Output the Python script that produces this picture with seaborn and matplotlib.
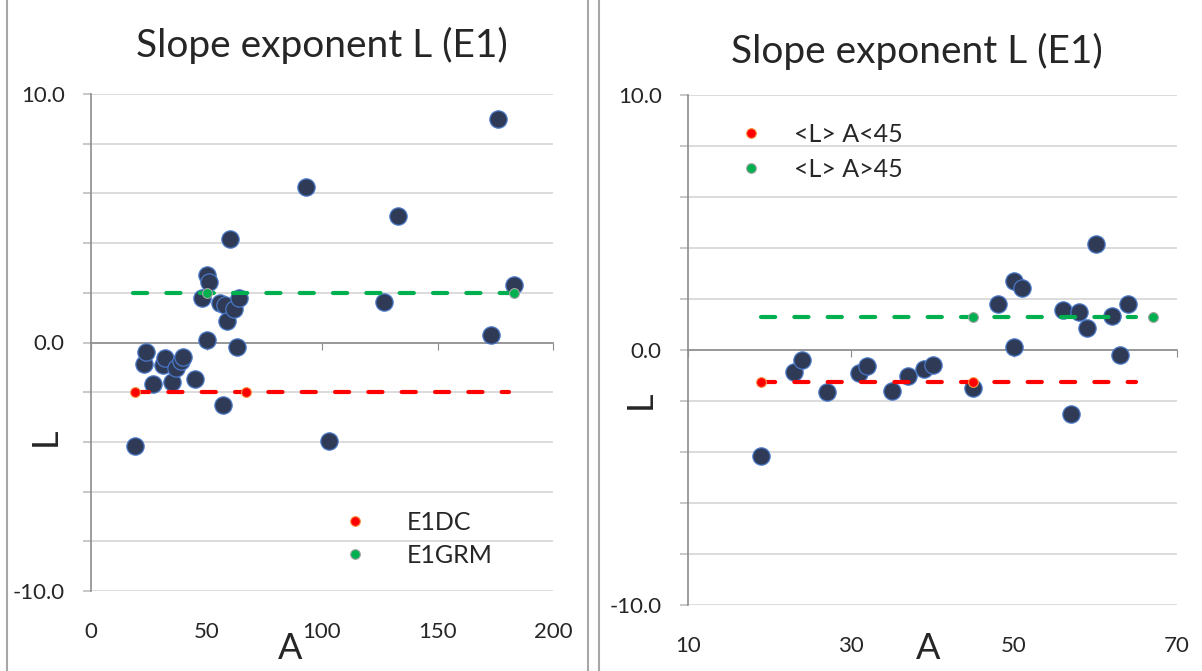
import pandas as pd
import matplotlib.pyplot as plt
import seaborn as sns
from matplotlib.ticker import FixedLocator, FuncFormatter
from matplotlib.lines import Line2D

# cores
NAVY, EDGE_BLUE = '#2E3A56', '#4A78C8'
RED, RED_EDGE = '#FF0000', '#F79646'
GREEN, GREEN_EDGE = '#00B050', '#A5A5A5'
GRID, AXIS, BORDER = '#D9D9D9', '#8C8C8C', '#A6A6A6'

# dados
A = [19, 23, 24, 27, 31, 32, 35, 37, 39, 40, 45, 48, 50, 50, 51, 56, 57, 58,
     59, 60, 62, 63, 64, 93, 103, 127, 133, 173, 176, 183]
L = [-4.17, -0.85, -0.39, -1.66, -0.91, -0.62, -1.60, -1.01, -0.75, -0.58,
     -1.48, 1.79, 2.70, 0.11, 2.45, 1.57, -2.50, 1.50, 0.85, 4.15, 1.35,
     -0.20, 1.81, 6.26, -3.98, 1.61, 5.11, 0.31, 9.00, 2.32]

# series de referencia (painel esquerdo)
e1dc_A, e1dc_L, e1dc_span = [19, 67], [-2.0, -2.0], [19, 181]
e1grm_A, e1grm_L, e1grm_span = [50, 183], [2.0, 2.0], [18, 183]
# medias (painel direito)
lt45_A, lt45_L, lt45_span = [19, 45], [-1.27, -1.27], [19, 65]
gt45_A, gt45_L, gt45_span = [45, 67], [1.30, 1.30], [19, 65]

left_xticks = [0, 50, 100, 150, 200]
right_xticks = [10, 30, 50, 70]

sns.set_style('white')
plt.rcParams['font.family'] = ['Lato', 'DejaVu Sans']

dados = pd.DataFrame({'A': A, 'L': L})

fig = plt.figure(figsize=(12.02, 6.71), dpi=100)
ax1 = fig.add_axes([91 / 1202, 1 - 591 / 671, 462 / 1202, 497 / 671])
ax2 = fig.add_axes([688 / 1202, 1 - 605 / 671, 489 / 1202, 510 / 671])


def linha_media(ax, span, val, pts_A, pts_L, cor, borda, nome):
    sns.lineplot(x=span, y=[val[0]] * len(span), ax=ax, color=cor, lw=3,
                 linestyle=(0, (3.4, 4.6)), dash_capstyle='round', zorder=4)
    ax.scatter(pts_A, pts_L, s=50, color=cor, edgecolor=borda, linewidth=0.8,
               zorder=5)
    return Line2D([], [], ls='', marker='o', markersize=7, markerfacecolor=cor,
                  markeredgecolor=borda, markeredgewidth=0.8, label=nome)


def formatar(ax, xlim, xticks, tit_xy, xl_xy, yl_xy):
    ax.set_xlim(xlim)
    ax.set_ylim(-10, 10)
    ax.yaxis.set_major_locator(FixedLocator(range(-10, 11, 2)))
    ax.yaxis.set_major_formatter(
        FuncFormatter(lambda v, p: f'{v:.1f}' if v % 10 == 0 else ''))
    ax.grid(axis='y', color=GRID, lw=1.3)
    ax.grid(axis='x', visible=False)
    ax.set_axisbelow(True)
    for s in ['top', 'right']:
        ax.spines[s].set_visible(False)
    ax.spines['left'].set_color(AXIS)
    ax.spines['left'].set_linewidth(1.2)
    ax.spines['bottom'].set_position(('data', 0))
    ax.spines['bottom'].set_color(AXIS)
    ax.spines['bottom'].set_linewidth(1.2)
    ax.set_xticks(xticks)
    ax.tick_params(axis='x', direction='out', length=5, color=AXIS,
                   labelbottom=False, bottom=True)
    ax.tick_params(axis='y', direction='out', length=6, color='#BFBFBF',
                   width=1.2, left=True, labelsize=16, pad=13)
    sec = ax.secondary_xaxis('bottom')
    sec.set_xticks(xticks)
    sec.spines['bottom'].set_visible(False)
    sec.tick_params(length=0, labelsize=16, pad=22)
    ax.set_title('Slope exponent L (E1)', fontsize=28, x=tit_xy[0],
                 y=tit_xy[1], va='center')
    ax.set_xlabel('A', fontsize=26)
    ax.xaxis.label.set_va('center')
    ax.xaxis.set_label_coords(*xl_xy)
    ax.set_ylabel('L', fontsize=26)
    ax.yaxis.label.set_va('center')
    ax.yaxis.set_label_coords(*yl_xy)


# painel esquerdo
sns.scatterplot(data=dados, x='A', y='L', ax=ax1, s=155, color=NAVY,
                edgecolor=EDGE_BLUE, linewidth=0.9, zorder=3)
h1 = linha_media(ax1, e1dc_span, e1dc_L, e1dc_A, e1dc_L, RED, RED_EDGE, 'E1DC')
h2 = linha_media(ax1, e1grm_span, e1grm_L, e1grm_A, e1grm_L, GREEN, GREEN_EDGE,
                 'E1GRM')
formatar(ax1, (0, 200), left_xticks, (0.5, 1.081), (0.431, -0.115),
         (-0.10, 0.31))
ax1.legend(handles=[h1, h2], frameon=False, fontsize=18, loc='upper left',
           bbox_to_anchor=(0.496, 0.206), handlelength=1.0, handletextpad=1.55,
           labelspacing=0.4)

# painel direito
sns.scatterplot(data=dados[dados['A'] < 70], x='A', y='L', ax=ax2, s=155,
                color=NAVY, edgecolor=EDGE_BLUE, linewidth=0.9, zorder=3)
h3 = linha_media(ax2, lt45_span, lt45_L, lt45_A, lt45_L, RED, RED_EDGE,
                 '<L> A<45')
h4 = linha_media(ax2, gt45_span, gt45_L, gt45_A, gt45_L, GREEN, GREEN_EDGE,
                 '<L> A>45')
formatar(ax2, (10, 70), right_xticks, (0.468, 1.07), (0.492, -0.085),
         (-0.098, 0.402))
ax2.legend(handles=[h3, h4], frameon=False, fontsize=18, loc='upper left',
           bbox_to_anchor=(0.057, 0.99), handlelength=1.0, handletextpad=1.22,
           labelspacing=0.48)

# molduras dos paineis
for xp in [7, 588, 599]:
    fig.add_artist(Line2D([xp / 1202] * 2, [0, 1], transform=fig.transFigure,
                          color=BORDER, lw=1.5))

fig.savefig('out.png', dpi=100)
